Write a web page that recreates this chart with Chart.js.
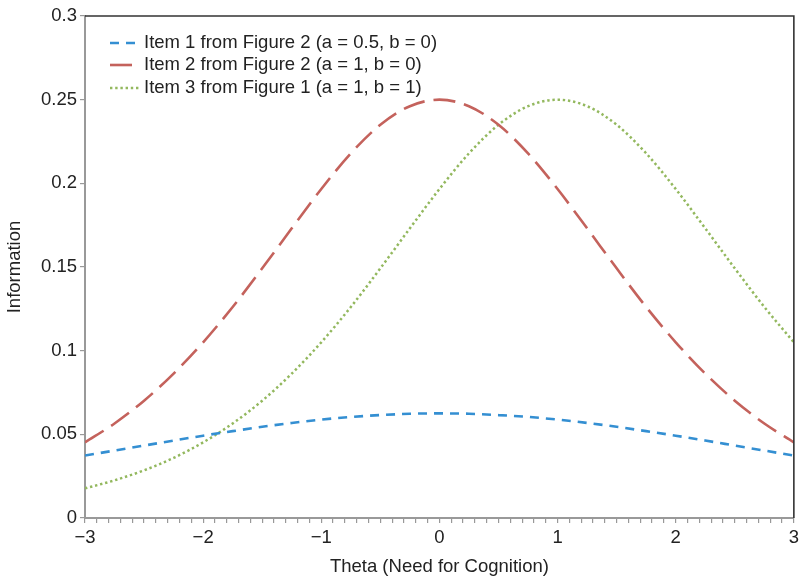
<!DOCTYPE html>
<html>
<head>
<meta charset="utf-8">
<script src="https://cdn.jsdelivr.net/npm/chart.js@4/dist/chart.umd.min.js"></script>
<style>
  html, body { margin: 0; padding: 0; background: #fff; }
  #wrap { width: 803px; height: 577px; position: relative; }
</style>
</head>
<body>
<div id="wrap"><canvas id="c" width="803" height="577"></canvas></div>
<script>
// ---- Data ----
const theta = [-3, -2.75, -2.5, -2.25, -2, -1.75, -1.5, -1.25, -1, -0.75, -0.5, -0.25, 0,
               0.25, 0.5, 0.75, 1, 1.25, 1.5, 1.75, 2, 2.25, 2.5, 2.75, 3];
const item1 = [0.0373, 0.0403, 0.0433, 0.0463, 0.0492, 0.0519, 0.0545, 0.0568, 0.0588, 0.0604, 0.0615, 0.0623, 0.0625,
               0.0623, 0.0615, 0.0604, 0.0588, 0.0568, 0.0545, 0.0519, 0.0492, 0.0463, 0.0433, 0.0403, 0.0373];
const item2 = [0.0452, 0.0565, 0.0701, 0.0863, 0.1050, 0.1261, 0.1492, 0.1731, 0.1966, 0.2179, 0.2350, 0.2461, 0.2500,
               0.2461, 0.2350, 0.2179, 0.1966, 0.1731, 0.1492, 0.1261, 0.1050, 0.0863, 0.0701, 0.0565, 0.0452];
const item3 = [0.0177, 0.0225, 0.0285, 0.0359, 0.0452, 0.0565, 0.0701, 0.0863, 0.1050, 0.1261, 0.1492, 0.1731, 0.1966,
               0.2179, 0.2350, 0.2461, 0.2500, 0.2461, 0.2350, 0.2179, 0.1966, 0.1731, 0.1492, 0.1261, 0.1050];
const seriesLabels = ['Item 1 from Figure 2 (a = 0.5, b = 0)',
                      'Item 2 from Figure 2 (a = 1, b = 0)',
                      'Item 3 from Figure 1 (a = 1, b = 1)'];
const xTitle = 'Theta (Need for Cognition)';
const yTitle = 'Information';

const FONT = "'Liberation Sans', Arial, Helvetica, sans-serif";
const FSIZE = 18.5;
Chart.defaults.font.family = FONT;
Chart.defaults.font.size = FSIZE;
Chart.defaults.color = '#222';

const pts = arr => theta.map((t, i) => ({ x: t, y: arr[i] }));

const styles = [
  { color: '#348fd2', dash: [9, 7], width: 2.6 },
  { color: '#c4625c', dash: [22, 9], width: 2.6 },
  { color: '#93b85e', dash: [2.4, 2.8], width: 2.5 }
];
const seriesData = [item1, item2, item3];

const datasets = seriesData.map((d, i) => ({
  label: seriesLabels[i],
  data: pts(d),
  borderColor: styles[i].color,
  backgroundColor: styles[i].color,
  borderDash: styles[i].dash,
  borderWidth: styles[i].width,
  pointRadius: 0,
  fill: false,
  cubicInterpolationMode: 'monotone'
}));

const fmtX = v => {
  const r = Math.round(v);
  if (Math.abs(v - r) > 1e-6) return '';
  return r < 0 ? '\u2212' + Math.abs(r) : String(r);
};

const decor = {
  id: 'decor',
  afterDatasetsDraw(chart) {
    const { ctx, chartArea: a } = chart;
    ctx.save();
    // top and right frame lines
    ctx.strokeStyle = '#333';
    ctx.lineWidth = 1.6;
    ctx.setLineDash([]);
    ctx.beginPath();
    ctx.moveTo(a.left, a.top);
    ctx.lineTo(a.right, a.top);
    ctx.lineTo(a.right, a.bottom);
    ctx.stroke();

    // legend
    const rows = [43, 65, 88];
    chart.data.datasets.forEach((ds, i) => {
      const y = rows[i];
      ctx.strokeStyle = ds.borderColor;
      ctx.lineWidth = ds.borderWidth;
      ctx.setLineDash(ds.borderDash);
      ctx.beginPath();
      ctx.moveTo(110, y);
      ctx.lineTo(141, y);
      ctx.stroke();
      ctx.setLineDash([]);
      ctx.fillStyle = '#222';
      ctx.font = FSIZE + 'px ' + FONT;
      ctx.textAlign = 'left';
      ctx.textBaseline = 'middle';
      ctx.fillText(ds.label, 144, y);
    });

    // axis titles
    ctx.fillStyle = '#222';
    ctx.font = FSIZE + 'px ' + FONT;
    ctx.textAlign = 'center';
    ctx.textBaseline = 'middle';
    ctx.fillText(xTitle, (a.left + a.right) / 2, 567);
    ctx.save();
    ctx.translate(15, (a.top + a.bottom) / 2);
    ctx.rotate(-Math.PI / 2);
    ctx.fillText(yTitle, 0, 0);
    ctx.restore();
    ctx.restore();
  }
};

new Chart(document.getElementById('c'), {
  type: 'line',
  data: { datasets },
  options: {
    responsive: false,
    animation: false,
    layout: { padding: { left: 0, right: 7, top: 16, bottom: 0 } },
    plugins: { legend: { display: false }, tooltip: { enabled: false } },
    scales: {
      x: {
        type: 'linear',
        min: -3, max: 3,
        ticks: { stepSize: 0.1, autoSkip: false, maxRotation: 0, callback: fmtX, padding: 4, color: '#222' },
        grid: { drawOnChartArea: false, drawTicks: true, tickLength: 5, color: '#999', lineWidth: 1.2 },
        border: { display: true, color: '#999', width: 2 },
        afterFit(s) { s.height = 59; }
      },
      y: {
        type: 'linear',
        min: 0, max: 0.3,
        ticks: { stepSize: 0.05, callback: v => String(+v.toFixed(2)), padding: 3, color: '#222' },
        grid: { drawOnChartArea: false, drawTicks: true, tickLength: 5, color: '#999', lineWidth: 1.2 },
        border: { display: true, color: '#999', width: 2 },
        afterFit(s) { s.width = 85; }
      }
    }
  },
  plugins: [decor]
});
</script>
</body>
</html>
